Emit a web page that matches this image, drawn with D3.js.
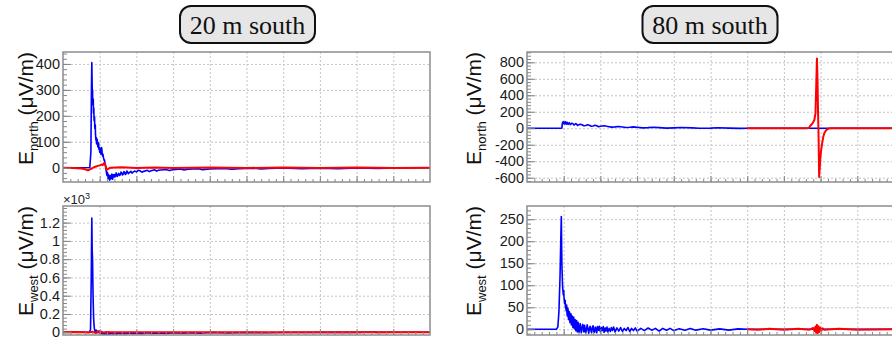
<!DOCTYPE html>
<html>
<head>
<meta charset="utf-8">
<script src="https://cdn.jsdelivr.net/npm/d3@7"></script>
<style>
  body { margin: 0; background: #fff; }
  svg { display: block; font-family: "Liberation Sans", Arial, sans-serif; }
  .grid line { stroke: #c4c4c4; stroke-dasharray: 2,2; }
  .grid path { display: none; }
  .ax path { display: none; }
  .ax line { stroke: #888; }
  .ax text { font-size: 14.5px; fill: #1a1a1a; }
</style>
</head>
<body>
<svg id="chart" width="892" height="339"></svg>
<script>
// x is in grid divisions (the original plot shows no time labels)
// 20 m south, north component
const north20Blue = [[0,0],[0.5,0],[0.73,1],[0.76,60],[0.775,300],[0.785,405],[0.795,320],[0.80,270],[0.805,300],[0.81,250],
  [0.82,240],[0.825,265],[0.83,210],[0.84,230],[0.845,190],[0.85,180],[0.86,195],[0.865,160],[0.87,150],[0.88,165],[0.885,130],
  [0.89,120],[0.90,105],[0.91,115],[0.915,92],[0.92,95],[0.93,110],[0.94,100],[0.95,80],[0.96,85],[0.97,95],[0.98,70],
  [0.99,78],[1.00,60],[1.01,68],[1.02,75],[1.03,52],[1.04,55],[1.05,78],[1.06,70],[1.07,50],[1.08,45],[1.09,52],[1.10,40],
  [1.11,35],[1.12,28],[1.13,30],[1.14,20],[1.15,12],[1.16,5],[1.17,-5],[1.18,-15],[1.19,-25],[1.20,-30],[1.21,-18],[1.22,-22],
  [1.23,-42],[1.24,-40],[1.25,-28],[1.26,-33],[1.27,-48],[1.28,-45],[1.29,-32],[1.30,-30],[1.31,-42],[1.32,-38],[1.33,-24],
  [1.34,-28],[1.35,-44],[1.36,-40],[1.37,-27],[1.38,-30],[1.40,-26],[1.41,-36],[1.43,-33],[1.45,-20],[1.46,-24],[1.48,-34],
  [1.49,-30],[1.52,-22],[1.54,-30],[1.56,-27],[1.58,-17],[1.60,-20],[1.62,-28],[1.64,-25],[1.66,-15],[1.68,-18],[1.70,-26],
  [1.72,-22],[1.74,-13],[1.76,-16],[1.78,-23],[1.80,-20],[1.85,-14],[1.88,-21],[1.90,-18],[1.95,-13],[2.0,-16],[2.05,-10],
  [2.1,-12],[2.15,-17],[2.2,-14],[2.3,-10],[2.35,-15],[2.4,-12],[2.5,-8],[2.55,-13],[2.6,-10],[2.8,-7],[2.9,-11],[3.0,-8],
  [3.2,-5],[3.3,-9],[3.4,-6],[3.7,-4],[3.8,-8],[4.0,-5],[4.4,-3],[4.6,-6],[4.8,-4],[5.2,-2],[5.4,-5],[5.6,-3],[6.0,-1],
  [6.5,-4],[7,-2],[7.5,-4],[8,-1],[8.6,-3],[9,-1],[10,0]];
const north20Red = [[0,0],[0.3,-1],[0.5,-3],[0.6,-6],[0.68,-10],[0.72,-8],[0.76,-4],[0.80,-2],[0.85,2],[0.90,5],[0.95,7],
  [1.0,9],[1.05,12],[1.08,10],[1.10,14],[1.12,18],[1.14,16],[1.16,8],[1.19,-8],[1.22,-6],[1.26,-2],[1.30,0],[1.6,2],[2.0,-1],
  [2.5,1],[3.0,-1],[4.0,1],[5.0,-1],[6.0,1],[7.0,-1],[8.0,1],[9.0,-1],[10,0]];

// 80 m south, north component
const north80Blue = [[0,0],[0.93,0],[0.95,2],[0.96,50],[0.97,72],[0.98,60],[0.99,80],[1.0,55],[1.01,68],[1.02,75],[1.03,52],
  [1.04,62],[1.05,78],[1.06,70],[1.07,50],[1.08,58],[1.09,72],[1.10,66],[1.12,46],[1.13,55],[1.15,68],[1.16,62],[1.18,44],
  [1.2,50],[1.22,62],[1.25,56],[1.28,38],[1.3,46],[1.33,56],[1.35,50],[1.38,34],[1.4,40],[1.45,48],[1.5,42],[1.55,30],
  [1.6,34],[1.65,42],[1.7,36],[1.75,24],[1.8,28],[1.85,36],[1.9,30],[1.95,18],[2.0,24],[2.1,30],[2.2,22],[2.3,14],[2.4,17],
  [2.5,22],[2.6,16],[2.7,9],[2.8,12],[2.9,17],[3.0,12],[3.15,5],[3.3,8],[3.45,13],[3.6,8],[3.8,2],[4.0,5],[4.2,9],[4.5,4],
  [4.7,0],[5.0,2],[5.2,6],[5.5,2],[5.8,-2],[6.0,0],[10,0]];
const north80Red = [[6.0,0],[7.0,0],[7.6,0],[7.68,2],[7.72,30],[7.78,60],[7.83,100],[7.86,180],[7.88,500],[7.90,845],
  [7.915,600],[7.93,200],[7.945,-100],[7.96,-590],[7.975,-500],[7.99,-380],[8.01,-280],[8.04,-190],[8.07,-110],[8.10,-60],
  [8.14,-30],[8.18,-12],[8.22,-4],[8.3,0],[10,0]];

// 20 m south, west component
const west20Blue = [[0,0],[0.5,0],[0.72,2],[0.75,30],[0.77,600],[0.785,1250],[0.795,900],[0.805,800],[0.815,500],[0.825,300],
  [0.835,150],[0.845,80],[0.855,40],[0.865,20],[0.88,5],[0.9,25],[0.92,10],[0.95,-5],[0.98,15],[1.0,-10],[1.03,5],[1.06,-15],
  [1.08,-22],[1.1,-8],[1.12,-20],[1.15,-18],[1.18,-26],[1.2,-10],[1.23,-22],[1.25,-16],[1.28,-24],[1.3,-9],[1.35,-20],
  [1.4,-14],[1.45,-22],[1.5,-8],[1.55,-18],[1.6,-12],[1.7,-19],[1.8,-7],[1.9,-16],[2.0,-10],[2.15,-15],[2.3,-6],[2.45,-13],
  [2.6,-8],[2.8,-12],[3.0,-5],[3.25,-11],[3.5,-6],[3.75,-9],[4.0,-3],[4.5,-7],[5,-3],[5.5,-5],[6,-2],[7,-1],[8,-1],[8.5,3],
  [8.52,-1],[9,0],[10,0]];
const west20Red = [[0,0],[0.4,2],[0.7,-2],[0.8,5],[0.9,-8],[0.95,10],[1.0,-4],[1.05,8],[1.1,-3],[1.2,4],[1.3,0],[2,1],
  [3,0],[5,0],[10,0]];

// 80 m south, west component
const west80Blue = [[0,0],[0.8,0],[0.84,5],[0.87,40],[0.9,120],[0.92,200],[0.935,256],[0.95,150],[0.97,95],[0.99,78],
  [1.0,88],[1.01,70],[1.02,62],[1.03,58],[1.04,66],[1.05,50],[1.06,47],[1.07,42],[1.08,55],[1.09,36],[1.1,30],[1.11,48],
  [1.12,44],[1.13,22],[1.14,25],[1.15,40],[1.16,38],[1.17,15],[1.18,20],[1.19,33],[1.2,35],[1.21,10],[1.22,15],[1.23,30],
  [1.24,27],[1.25,4],[1.26,8],[1.27,28],[1.28,22],[1.29,1],[1.3,5],[1.31,22],[1.32,16],[1.33,-3],[1.34,2],[1.35,20],
  [1.36,14],[1.37,-6],[1.38,-4],[1.39,16],[1.4,11],[1.42,-7],[1.43,0],[1.45,13],[1.46,6],[1.48,-8],[1.5,4],[1.52,11],
  [1.54,-2],[1.55,-6],[1.57,9],[1.58,3],[1.6,-8],[1.62,-2],[1.64,10],[1.66,2],[1.68,-9],[1.7,0],[1.72,7],[1.74,-2],[1.76,-8],
  [1.78,4],[1.8,8],[1.82,-5],[1.84,-7],[1.86,5],[1.88,2],[1.9,-8],[1.92,6],[1.95,-2],[1.97,7],[2.0,-6],[2.03,4],[2.05,-3],
  [2.08,6],[2.1,-7],[2.13,3],[2.15,-4],[2.18,5],[2.2,-6],[2.24,2],[2.27,-5],[2.3,4],[2.33,-3],[2.36,5],[2.4,-6],[2.45,3],
  [2.5,-4],[2.55,4],[2.6,-5],[2.65,2],[2.7,-3],[2.75,4],[2.8,-5],[2.85,2],[2.9,-3],[2.95,3],[3.0,-4],[3.1,2],[3.2,-3],
  [3.3,3],[3.4,-2],[3.5,2],[3.6,-4],[3.7,2],[3.8,-2],[3.9,2],[4.0,-3],[4.15,1],[4.3,-2],[4.45,2],[4.6,-2],[4.8,1],[5.0,-2],
  [5.25,1],[5.5,-2],[5.75,1],[6.0,0],[10,0]];
const west80Red = [[6.0,0],[6.3,-1],[6.6,1],[7.0,-1],[7.4,1],[7.7,-1],[7.8,3],[7.83,-4],[7.86,6],[7.88,-8],[7.90,10],
  [7.92,-9],[7.94,7],[7.96,-6],[7.99,4],[8.02,-3],[8.06,2],[8.1,-1],[8.5,1],[9,-1],[10,0]];

const titles = ["20 m south", "80 m south"];
const yTicksNorth20 = [0, 100, 200, 300, 400];
const yTicksNorth80 = [-600, -400, -200, 0, 200, 400, 600, 800];
const yTicksWest20 = [0, 200, 400, 600, 800, 1000, 1200];
const yTicksWest80 = [0, 50, 100, 150, 200, 250];

const svg = d3.select("#chart");
const fw = 367;

const panels = [
  {x0: 63, y0: 52, h: 130, dom: [-55, 446], ticks: yTicksNorth20, minor: 20, comp: "north", blue: north20Blue, red: north20Red, lx: 33},
  {x0: 527, y0: 52, h: 130, dom: [-652, 925], ticks: yTicksNorth80, minor: 40, comp: "north", blue: north80Blue, red: north80Red, lx: 481},
  {x0: 63, y0: 206, h: 129, dom: [-30, 1382], ticks: yTicksWest20, minor: 40, comp: "west", blue: west20Blue, red: west20Red, lx: 33, kilo: true},
  {x0: 527, y0: 206, h: 129, dom: [-13, 280], ticks: yTicksWest80, minor: 10, comp: "west", blue: west80Blue, red: west80Red, lx: 481}
];

panels.forEach((p, i) => {
  const x = d3.scaleLinear().domain([0, 10]).range([0, fw]);
  const y = d3.scaleLinear().domain(p.dom).range([p.h, 0]);
  const g = svg.append("g").attr("transform", `translate(${p.x0},${p.y0})`);

  // grid
  g.append("g").attr("class", "grid")
    .call(d3.axisBottom(x).tickValues(d3.range(1, 10)).tickSize(p.h).tickFormat(""));
  g.append("g").attr("class", "grid")
    .call(d3.axisLeft(y).tickValues(p.ticks).tickSize(-fw).tickFormat(""));

  // traces
  const clipId = "clip" + i;
  g.append("clipPath").attr("id", clipId)
    .append("rect").attr("width", fw).attr("height", p.h);
  const line = d3.line().x(d => x(d[0])).y(d => y(d[1]));
  g.append("path").datum(p.blue).attr("clip-path", `url(#${clipId})`)
    .attr("fill", "none").attr("stroke", "#0000ff").attr("stroke-width", 1.6)
    .attr("stroke-linejoin", "round").attr("d", line);
  g.append("path").datum(p.red).attr("clip-path", `url(#${clipId})`)
    .attr("fill", "none").attr("stroke", "#ff0000").attr("stroke-width", 2)
    .attr("stroke-linejoin", "round").attr("d", line);

  // axes with inward ticks
  const minorTicks = d3.range(Math.ceil(p.dom[0] / p.minor) * p.minor, p.dom[1], p.minor);
  g.append("g").attr("class", "ax")
    .call(d3.axisLeft(y).tickValues(minorTicks).tickSize(-4).tickFormat(""));
  g.append("g").attr("class", "ax")
    .call(d3.axisLeft(y).tickValues(p.ticks).tickSize(-8).tickPadding(3)
      .tickFormat(d => p.kilo ? String(d / 1000) : String(d)));
  g.append("g").attr("class", "ax").attr("transform", `translate(0,${p.h})`)
    .call(d3.axisBottom(x).tickValues(d3.range(0.2, 10, 0.2)).tickSize(-3).tickFormat(""));
  g.append("g").attr("class", "ax").attr("transform", `translate(0,${p.h})`)
    .call(d3.axisBottom(x).tickValues(d3.range(1, 10)).tickSize(-6).tickFormat(""));

  g.append("rect").attr("width", fw).attr("height", p.h)
    .attr("fill", "none").attr("stroke", "#8c8c8c").attr("stroke-width", 1.5);

  // y title
  const t = svg.append("text")
    .attr("transform", `translate(${p.lx},${p.y0}) rotate(-90)`)
    .attr("text-anchor", "end").attr("font-size", 21).attr("fill", "#111");
  t.append("tspan").text("E");
  t.append("tspan").attr("font-size", 13).attr("dy", 5).text(p.comp);
  t.append("tspan").attr("dy", -5).text(" (μV/m)");

  if (p.kilo) {
    const k = svg.append("text").attr("x", p.x0).attr("y", p.y0 - 2)
      .attr("font-size", 13).attr("fill", "#222");
    k.append("tspan").text("×10");
    k.append("tspan").attr("font-size", 9).attr("dy", -5).text("3");
  }
});

// title boxes
titles.forEach((s, i) => {
  const cx = [247.5, 710][i];
  svg.append("rect").attr("x", cx - 67.5).attr("y", 6).attr("width", 135).attr("height", 37)
    .attr("rx", 11).attr("fill", "#e6e6e6").attr("stroke", "#111").attr("stroke-width", 2);
  svg.append("text").attr("x", cx).attr("y", 34).attr("text-anchor", "middle")
    .attr("font-family", "'Liberation Serif', 'Times New Roman', serif").attr("font-size", 26)
    .attr("fill", "#111").text(s);
});
</script>
</body>
</html>
